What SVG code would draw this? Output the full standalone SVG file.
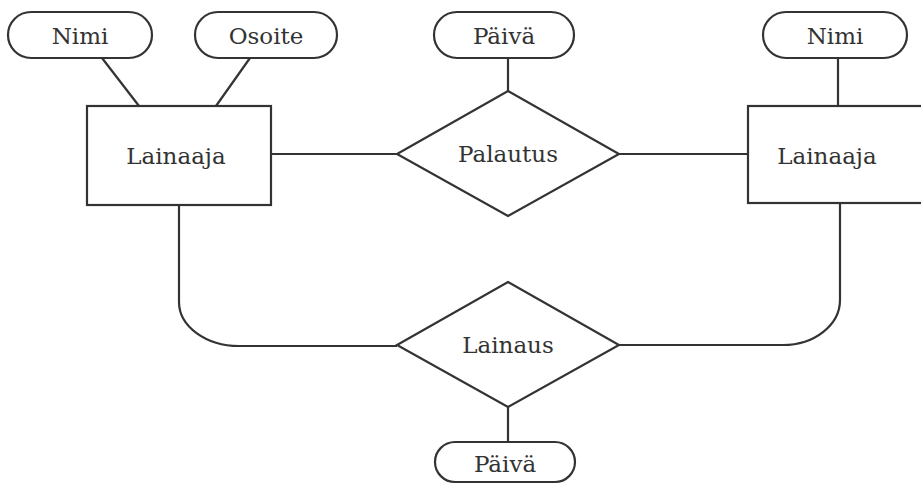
<svg xmlns="http://www.w3.org/2000/svg" width="921" height="484" viewBox="0 0 921 484">
<style>
.s{fill:#fff;stroke:#333;stroke-width:2.2}
.c{fill:none;stroke:#333;stroke-width:2.2}
text{font-family:"DejaVu Serif","Liberation Serif",serif;font-size:23px;fill:#333;text-anchor:middle}
</style>
<rect width="921" height="484" fill="#fff"/>
<g id="connectors">
<line class="c" x1="102" y1="58" x2="139" y2="106"/>
<line class="c" x1="250" y1="58" x2="216" y2="106"/>
<line class="c" x1="508" y1="58" x2="508" y2="91"/>
<line class="c" x1="838" y1="58" x2="838" y2="106"/>
<line class="c" x1="271" y1="154" x2="397" y2="154"/>
<line class="c" x1="619" y1="154" x2="748" y2="154"/>
<path class="c" d="M179 205 V302 A60 44 0 0 0 239 346 H397"/>
<path class="c" d="M840 203 V300 A57 45 0 0 1 783 345 H619"/>
<line class="c" x1="508" y1="407" x2="508" y2="442"/>
</g>
<g id="attr-nimi-left"><rect class="s" x="8" y="12" width="144" height="46" rx="23"/><text x="80" y="44">Nimi</text></g>
<g id="attr-osoite"><rect class="s" x="195" y="12" width="142" height="46" rx="23"/><text x="266" y="44">Osoite</text></g>
<g id="attr-paiva-top"><rect class="s" x="434" y="12" width="140" height="46" rx="23"/><text x="504" y="44">Päivä</text></g>
<g id="attr-nimi-right"><rect class="s" x="763" y="12" width="144" height="46" rx="23"/><text x="835" y="44">Nimi</text></g>
<g id="lainaaja-left"><rect class="s" x="87" y="106" width="184" height="99"/><text x="176" y="164">Lainaaja</text></g>
<g id="lainaaja-right"><rect class="s" x="748" y="106" width="190" height="97"/><text x="827" y="164">Lainaaja</text></g>
<g id="palautus"><polygon class="s" points="508,91 619,154 508,216 397,154"/><text x="508" y="162">Palautus</text></g>
<g id="lainaus"><polygon class="s" points="508,282 619,345 508,407 397,345"/><text x="508" y="353">Lainaus</text></g>
<g id="attr-paiva-bottom"><rect class="s" x="435" y="442" width="140" height="40" rx="20"/><text x="505" y="472">Päivä</text></g>
</svg>
